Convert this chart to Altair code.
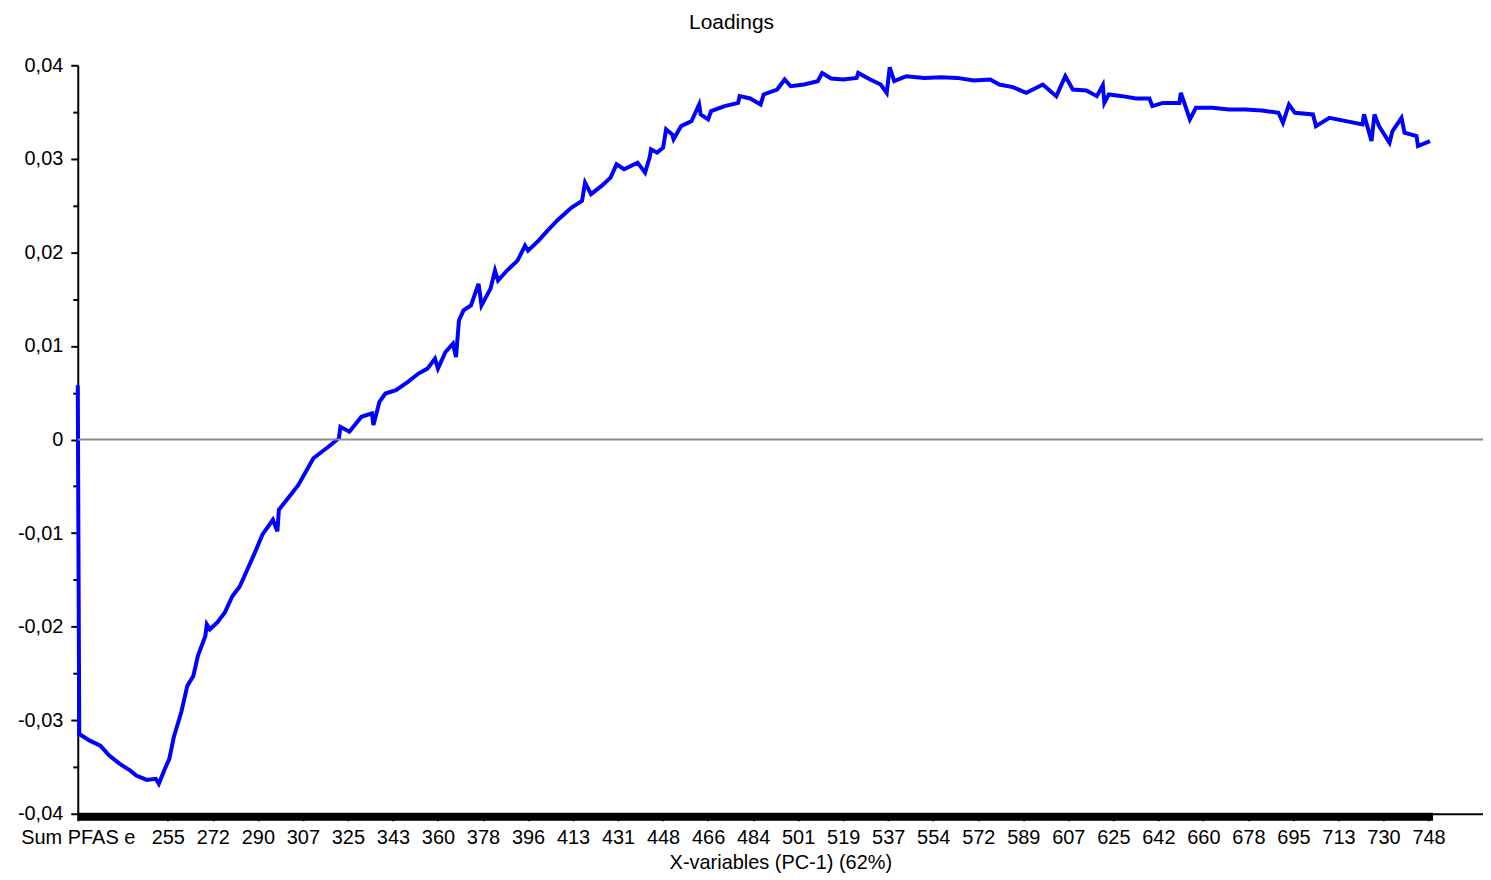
import altair as alt
import pandas as pd

# variable index along the x axis (0 = "Sum PFAS e", then spectral variables)
var_index = [0, 1, 8, 15, 21, 28, 35, 39, 46, 52, 54, 58, 61, 64, 69, 73, 77, 80, 85, 86, 88, 93, 98, 103, 108, 113,
             118, 123, 130, 133, 134, 141, 147, 157, 167, 174, 175, 181, 189, 196, 197, 201, 205, 212, 220, 227,
             233, 238, 240, 245, 250, 252, 254, 257, 262, 267, 268, 269, 275, 278, 280, 286, 293, 298, 300, 307,
             313, 320, 329, 336, 338, 342, 349, 355, 359, 364, 373, 378, 381, 382, 386, 390, 392, 396, 397, 402,
             409, 414, 415, 420, 422, 431, 440, 441, 448, 455, 457, 466, 471, 475, 484, 493, 496, 502, 510, 519,
             520, 528, 535, 539, 541, 544, 552, 564, 575, 586, 597, 608, 614, 623, 632, 643, 652, 658, 663, 672,
             679, 683, 684, 687, 696, 705, 714, 716, 723, 734, 735, 741, 745, 756, 767, 778, 789, 800, 803, 807,
             811, 823, 825, 834, 845, 856, 857, 862, 864, 867, 874, 876, 882, 884, 892, 893, 901]

loading = [0.0058, -0.03148, -0.03219, -0.03272, -0.03379, -0.03467, -0.03539, -0.03592, -0.03638, -0.03627,
           -0.03680, -0.03521, -0.03414, -0.03180, -0.02913, -0.02633, -0.02527, -0.02314, -0.02101, -0.01976,
           -0.02029, -0.01955, -0.01848, -0.01675, -0.01568, -0.01390, -0.01209, -0.01017, -0.00858, -0.00982,
           -0.00751, -0.00609, -0.00485, -0.00200, -0.00077, 0.00013, 0.00136, 0.00083, 0.00243, 0.00279,
           0.00154, 0.00403, 0.00492, 0.00527, 0.00616, 0.00705, 0.00758, 0.00865, 0.00758, 0.00935, 0.01025,
           0.00882, 0.01273, 0.01380, 0.01433, 0.01664, 0.01557, 0.01433, 0.01611, 0.01806, 0.01699, 0.01806,
           0.01912, 0.02072, 0.02019, 0.02125, 0.02232, 0.02349, 0.02480, 0.02551, 0.02746, 0.02623, 0.02711,
           0.02799, 0.02942, 0.02889, 0.02959, 0.02853, 0.03013, 0.03102, 0.03066, 0.03119, 0.03315, 0.03262,
           0.03209, 0.03350, 0.03403, 0.03581, 0.03475, 0.03422, 0.03510, 0.03563, 0.03598, 0.03670, 0.03645,
           0.03581, 0.03688, 0.03741, 0.03848, 0.03776, 0.03794, 0.03830, 0.03918, 0.03858, 0.03848, 0.03865,
           0.03918, 0.03848, 0.03794, 0.03705, 0.03979, 0.03830, 0.03883, 0.03865, 0.03872, 0.03865, 0.03837,
           0.03848, 0.03794, 0.03766, 0.03705, 0.03794, 0.03670, 0.03883, 0.03741, 0.03731, 0.03670, 0.03787,
           0.03598, 0.03688, 0.03670, 0.03645, 0.03645, 0.03563, 0.03598, 0.03598, 0.03705, 0.03422, 0.03545,
           0.03545, 0.03528, 0.03528, 0.03517, 0.03492, 0.03385, 0.03581, 0.03492, 0.03475, 0.03350, 0.03439,
           0.03403, 0.03368, 0.03475, 0.03190, 0.03475, 0.03350, 0.03172, 0.03297, 0.03439, 0.03279, 0.03244,
           0.03137, 0.03190]

tick_index = [0, 60, 90, 120, 150, 180, 210, 240, 270, 300, 330, 360, 390, 420, 450, 480, 510, 540, 570, 600,
              630, 660, 690, 720, 750, 780, 810, 840, 870, 900]
tick_labels = ["Sum PFAS e", "255", "272", "290", "307", "325", "343", "360", "378", "396", "413", "431", "448",
               "466", "484", "501", "519", "537", "554", "572", "589", "607", "625", "642", "660", "678", "695",
               "713", "730", "748"]

y_ticks = [-0.04, -0.035, -0.03, -0.025, -0.02, -0.015, -0.01, -0.005, 0.0, 0.005, 0.01, 0.015, 0.02, 0.025,
           0.03, 0.035, 0.04]

n_variables = [0, 903]  # span of the variable tick band
x_domain = [0, 936.3]
y_domain = [-0.04, 0.04]

W, H = 1410, 751
FONT = "Liberation Sans"

df = pd.DataFrame({"idx": var_index, "v": loading})
band_df = pd.DataFrame({"a": [n_variables[0]], "b": [n_variables[1]]})
zero_df = pd.DataFrame({"z": [0.0]})

lab_arr = "[" + ",".join("'" + s + "'" for s in tick_labels) + "]"
idx_arr = "[" + ",".join(str(i) for i in tick_index) + "]"
x_label_expr = f"{lab_arr}[indexof({idx_arr}, datum.value)]"

major_test = "abs(datum.value*100 - round(datum.value*100)) < 0.000001"
y_label_expr = (f"({major_test}) ? (datum.value == 0 ? '0' : (datum.value < 0 ? '-' : '') + "
                f"replace(format(abs(datum.value), '.2f'), '.', ',')) : ''")

x_scale = alt.Scale(domain=x_domain, nice=False, zero=False)
y_scale = alt.Scale(domain=y_domain, nice=False, zero=False)

x_axis = alt.Axis(
    values=tick_index, labelExpr=x_label_expr, title="X-variables (PC-1) (62%)",
    grid=False, domainColor="black", domainWidth=2, tickColor="black", tickWidth=2, tickSize=7,
    labelFont=FONT, labelFontSize=20, labelColor="black", labelPadding=7, labelOverlap=False,
    labelFlush=False,
    titleFont=FONT, titleFontSize=20, titleFontWeight="normal", titleColor="black", titlePadding=5,
)
y_axis = alt.Axis(
    values=y_ticks, labelExpr=y_label_expr, title=None, grid=False,
    domainColor="black", domainWidth=2, tickColor="black", tickWidth=2,
    tickSize={"condition": {"test": major_test, "value": 7}, "value": 5},
    labelFont=FONT, labelFontSize=20, labelColor="black", labelPadding=8, labelFlush=False,
)

line = alt.Chart(df).mark_line(color="#0000ff", strokeWidth=4, strokeJoin="miter").encode(
    x=alt.X("idx:Q", scale=x_scale, axis=x_axis),
    y=alt.Y("v:Q", scale=y_scale, axis=y_axis),
)

band = alt.Chart(band_df).mark_rect(color="black").encode(
    x=alt.X("a:Q", scale=x_scale, axis=x_axis),
    x2="b:Q",
    y=alt.value(H - 1),
    y2=alt.value(H + 7),
)

zero = alt.Chart(zero_df).mark_rule(color="#8c8c8c", strokeWidth=2).encode(
    y=alt.Y("z:Q", scale=y_scale, axis=y_axis),
)

chart = alt.layer(line, zero, band).properties(
    width=W, height=H,
    title=alt.TitleParams("Loadings", font=FONT, fontSize=21, fontWeight="normal", color="black",
                          anchor="middle", dx=-49, offset=5, baseline="alphabetic"),
    autosize=alt.AutoSizeParams(type="none"),
    padding={"left": 70, "top": 56, "right": 0, "bottom": 60},
    view=alt.ViewBackground(strokeOpacity=0, strokeWidth=0),
).configure_axis(grid=False).configure(background="white")

chart.save("out.html", embed_options={"renderer": "svg", "actions": False})
